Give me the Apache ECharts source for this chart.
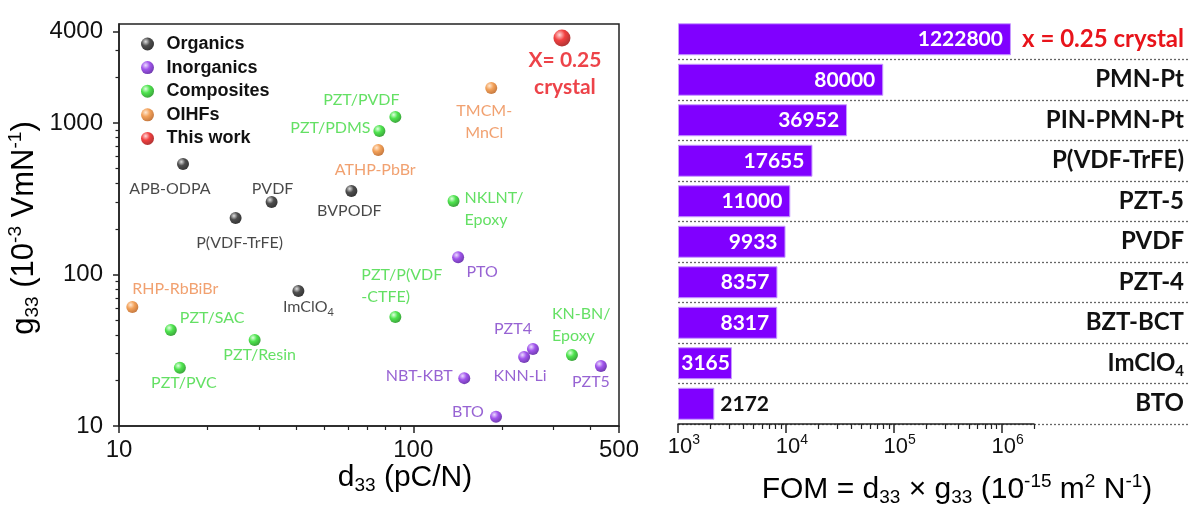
<!DOCTYPE html>
<html><head><meta charset="utf-8">
<script src="https://cdn.jsdelivr.net/npm/echarts@6/dist/echarts.min.js"></script>
<style>html,body{margin:0;padding:0;background:#fff}#c{width:1200px;height:522px}</style>
</head><body><div id="c"></div>
<script>
// ---------- Left panel: g33 vs d33 (log-log) ----------
const organicsNames = ['APB-ODPA', 'PVDF', 'P(VDF-TrFE)', 'BVPODF', 'ImClO4'];
const organicsD33 = [16.5, 33, 24.9, 61.6, 40.7];
const organicsG33 = [536, 301, 236, 356, 77.8];

const inorganicsNames = ['PTO', 'PZT4', 'KNN-Li', 'NBT-KBT', 'BTO', 'PZT5'];
const inorganicsD33 = [142, 255, 238, 149, 191, 434];
const inorganicsG33 = [130, 32.2, 28.5, 20.7, 11.5, 24.9];

const compositesNames = ['PZT/PVDF', 'PZT/PDMS', 'NKLNT/\nEpoxy', 'PZT/P(VDF\n-CTFE)', 'KN-BN/\nEpoxy', 'PZT/SAC', 'PZT/Resin', 'PZT/PVC'];
const compositesD33 = [86.9, 76.7, 137, 86.9, 346, 15.0, 28.9, 16.1];
const compositesG33 = [1097, 885, 306, 52.4, 29.4, 43, 37, 24.2];

const oihfNames = ['TMCM-\nMnCl', 'ATHP-PbBr', 'RHP-RbBiBr'];
const oihfD33 = [184, 76, 11.1];
const oihfG33 = [1702, 664, 61];

const thisWorkNames = ['X= 0.25\ncrystal'];
const thisWorkD33 = [320];
const thisWorkG33 = [3640];

const leftXTicks = [10, 100, 500];
const leftXMinor = [20, 30, 40, 50, 60, 70, 80, 90, 200, 300, 400];
const leftYTicks = [10, 100, 1000, 4000];
const leftYMinor = [20, 30, 40, 50, 60, 70, 80, 90, 200, 300, 400, 500, 600, 700, 800, 900, 2000, 3000];
const leftXRange = [10, 500];
const leftYRange = [10, 4500];

// ---------- Right panel: FOM bars ----------
const fomCategories = ['x = 0.25 crystal', 'PMN-Pt', 'PIN-PMN-Pt', 'P(VDF-TrFE)', 'PZT-5', 'PVDF', 'PZT-4', 'BZT-BCT', 'ImClO4', 'BTO'];
const fomValues = [1222800, 80000, 36952, 17655, 11000, 9933, 8357, 8317, 3165, 2172];
const fomTicks = [1e3, 1e4, 1e5, 1e6];
const fomMinor = [2e3, 3e3, 4e3, 5e3, 6e3, 7e3, 8e3, 9e3, 2e4, 3e4, 4e4, 5e4, 6e4, 7e4, 8e4, 9e4, 2e5, 3e5, 4e5, 5e5, 6e5, 7e5, 8e5, 9e5, 2e6];
const fomRange = [1e3, 2e6];

// ---------- styling (not data) ----------
const L = Math.log10;
const LBL = 'Lato, "Open Sans", sans-serif';
const ARI = '"Liberation Sans", Arial, sans-serif';
const labelPlace = {
  'APB-ODPA': [-13, 25, 'center'],
  'PVDF': [1, -13, 'center'],
  'P(VDF-TrFE)': [4, 25, 'center'],
  'BVPODF': [-2, 20, 'center'],
  'ImClO4': [10, 16, 'center'],
  'PTO': [24, 15, 'center'],
  'PZT4': [-20, -20, 'center'],
  'KNN-Li': [-4, 19, 'center'],
  'NBT-KBT': [-45, -2, 'center'],
  'BTO': [-28, -5, 'center'],
  'PZT5': [-10, 16, 'center'],
  'PZT/PVDF': [-34, -17, 'center'],
  'PZT/PDMS': [-49, -3, 'center'],
  'NKLNT/\nEpoxy': [11, 8, 'left'],
  'PZT/P(VDF\n-CTFE)': [-34, -31, 'left'],
  'KN-BN/\nEpoxy': [-20, -30, 'left'],
  'PZT/SAC': [9, -12, 'left'],
  'PZT/Resin': [5, 15, 'center'],
  'PZT/PVC': [4, 15, 'center'],
  'TMCM-\nMnCl': [-7, 34, 'center'],
  'ATHP-PbBr': [-3, 20, 'center'],
  'RHP-RbBiBr': [0, -18, 'left'],
  'X= 0.25\ncrystal': [3, 36, 'center']
};

function sphere(light, mid, dark) {
  return { type: 'radial', x: 0.36, y: 0.32, r: 0.72,
    colorStops: [{ offset: 0, color: light }, { offset: 0.45, color: mid }, { offset: 1, color: dark }] };
}

function makeScatter(name, names, d, g, grad, textColor, size, bold) {
  return {
    name: name, type: 'scatter', xAxisIndex: 0, yAxisIndex: 0,
    symbolSize: size,
    itemStyle: { color: grad },
    label: {
      show: true, position: 'inside', color: textColor,
      fontFamily: LBL, fontSize: bold ? 21 : 16, fontWeight: bold ? 'bold' : 'normal',
      lineHeight: bold ? 27 : 22, verticalAlign: 'middle',
      formatter: p => p.name === 'ImClO4' ? 'ImClO{s|4}' : p.name,
      rich: { s: { fontSize: 11, lineHeight: 12, verticalAlign: 'bottom', color: textColor, fontFamily: LBL } }
    },
    emphasis: { disabled: true },
    data: names.map((n, i) => {
      const pl = labelPlace[n] || [0, 18, 'center'];
      return { name: n, value: [L(d[i]), L(g[i])], label: { offset: [pl[0], pl[1]], align: pl[2] } };
    }),
    z: 5
  };
}

const subRich = (fs, color) => ({
  m: { fontSize: fs, lineHeight: fs + 5, fontFamily: ARI, color: color },
  sub: { fontSize: Math.round(fs * 0.62), lineHeight: Math.round(fs * 0.62), verticalAlign: 'bottom', fontFamily: ARI, color: color },
  sup: { fontSize: Math.round(fs * 0.62), lineHeight: Math.round(fs * 0.62), verticalAlign: 'top', fontFamily: ARI, color: color }
});

const chart = echarts.init(document.getElementById('c'), null, { renderer: 'canvas' });

const option = {
  animation: false,
  backgroundColor: '#fff',
  grid: [
    { left: 119, top: 24, width: 500, height: 402, show: true, borderColor: '#222', borderWidth: 1.5, backgroundColor: 'transparent', containLabel: false, outerBoundsMode: 'none' },
    { left: 678, top: 19, width: 356, height: 405, containLabel: false, outerBoundsMode: 'none' },
    { left: 678, top: 19, right: 12, height: 405, containLabel: false, outerBoundsMode: 'none' }
  ],
  legend: {
    orient: 'vertical', left: 136, top: 30, itemWidth: 28, itemHeight: 13, itemGap: 5.6,
    icon: 'circle',
    textStyle: { fontFamily: ARI, fontSize: 18, fontWeight: 'bold', color: '#111', lineHeight: 18 },
    data: ['Organics', 'Inorganics', 'Composites', 'OIHFs', 'This work'],
    selectedMode: false
  },
  xAxis: [
    { gridIndex: 0, type: 'value', position: 'bottom', min: L(leftXRange[0]), max: L(leftXRange[1]),
      axisLine: { show: true, lineStyle: { color: '#222', width: 1.5 } },
      axisTick: { show: true, length: 7, lineStyle: { color: '#222', width: 1.5 }, customValues: leftXTicks.map(L) },
      axisLabel: { show: true, customValues: leftXTicks.map(L), formatter: v => String(Math.round(Math.pow(10, v))),
        fontFamily: ARI, fontSize: 24, color: '#111', margin: 12 },
      splitLine: { show: false } },
    { gridIndex: 0, type: 'value', position: 'bottom', min: L(leftXRange[0]), max: L(leftXRange[1]),
      axisLine: { show: false },
      axisTick: { show: true, length: 4, lineStyle: { color: '#222', width: 1.2 }, customValues: leftXMinor.map(L) },
      axisLabel: { show: false }, splitLine: { show: false } },
    { gridIndex: 1, type: 'value', position: 'bottom', min: L(fomRange[0]), max: L(fomRange[1]), startValue: L(fomRange[0]),
      axisLine: { show: true, lineStyle: { color: '#222', width: 1.5 } },
      axisTick: { show: true, length: 9, lineStyle: { color: '#222', width: 1.5 }, customValues: fomTicks.map(L) },
      axisLabel: { show: true, customValues: fomTicks.map(L), margin: 9, padding: [0, 0, 0, 12],
        formatter: v => '{m|10}{sup|' + Math.round(v) + '}', rich: subRich(22, '#111') },
      splitLine: { show: false } },
    { gridIndex: 1, type: 'value', position: 'bottom', min: L(fomRange[0]), max: L(fomRange[1]),
      axisLine: { show: false },
      axisTick: { show: true, length: 5, lineStyle: { color: '#222', width: 1.2 }, customValues: fomMinor.map(L) },
      axisLabel: { show: false }, splitLine: { show: false } },
    { gridIndex: 2, type: 'value', show: false, min: 0, max: 1 }
  ],
  yAxis: [
    { gridIndex: 0, type: 'value', position: 'left', min: L(leftYRange[0]), max: L(leftYRange[1]),
      axisLine: { show: true, lineStyle: { color: '#222', width: 1.5 } },
      axisTick: { show: true, length: 6, lineStyle: { color: '#222', width: 1.5 }, customValues: leftYTicks.map(L) },
      axisLabel: { show: true, customValues: leftYTicks.map(L), formatter: v => String(Math.round(Math.pow(10, v))),
        fontFamily: ARI, fontSize: 24, color: '#111', margin: 16 },
      splitLine: { show: false } },
    { gridIndex: 0, type: 'value', position: 'left', min: L(leftYRange[0]), max: L(leftYRange[1]),
      axisLine: { show: false },
      axisTick: { show: true, length: 3.5, lineStyle: { color: '#222', width: 1.2 }, customValues: leftYMinor.map(L) },
      axisLabel: { show: false }, splitLine: { show: false } },
    { gridIndex: 1, type: 'category', data: fomCategories, inverse: true,
      axisLine: { show: false }, axisTick: { show: false }, axisLabel: { show: false }, splitLine: { show: false } },
    { gridIndex: 2, type: 'category', data: fomCategories, inverse: true, position: 'right',
      axisLine: { show: false }, axisTick: { show: false },
      axisLabel: { show: true, inside: true, margin: 4, interval: 0,
        formatter: (v, i) => i === 0 ? '{r|' + v + '}' : (v === 'ImClO4' ? '{b|ImClO}{bs|4}' : '{b|' + v + '}'),
        rich: {
          r: { fontFamily: LBL, fontSize: 24, fontWeight: 'bold', color: '#e8141b', lineHeight: 30 },
          b: { fontFamily: LBL, fontSize: 24, fontWeight: 'bold', color: '#111', lineHeight: 30 },
          bs: { fontFamily: LBL, fontSize: 15, fontWeight: 'bold', color: '#111', lineHeight: 15, verticalAlign: 'bottom' }
        } },
      splitLine: { show: true, showMinLine: false, showMaxLine: true, interval: 0,
        lineStyle: { color: '#666', width: 1.3, type: [2, 2] } } }
  ],
  series: [
    makeScatter('Organics', organicsNames, organicsD33, organicsG33, sphere('#d8d8d8', '#222', '#000'), '#1a1a1a', 12, false),
    makeScatter('Inorganics', inorganicsNames, inorganicsD33, inorganicsG33, sphere('#e6d2ff', '#8a2be8', '#4b0a99'), '#7d3cc8', 12, false),
    makeScatter('Composites', compositesNames, compositesD33, compositesG33, sphere('#d8ffd8', '#22dd22', '#0a8a0a'), '#3dd83d', 12, false),
    makeScatter('OIHFs', oihfNames, oihfD33, oihfG33, sphere('#ffe2c6', '#f08a30', '#b5560f'), '#ee8a4c', 12, false),
    makeScatter('This work', thisWorkNames, thisWorkD33, thisWorkG33, sphere('#ffd0d0', '#ee1111', '#990000'), '#e8141b', 17, true),
    {
      name: 'FOM', type: 'bar', xAxisIndex: 2, yAxisIndex: 2, barWidth: 32, clip: true,
      itemStyle: { color: '#8000ff', borderColor: '#c79bff', borderWidth: 1 },
      emphasis: { disabled: true },
      label: { show: true, position: 'insideRight', distance: 8, color: '#fff',
        fontFamily: LBL, fontSize: 21, fontWeight: 'bold',
        formatter: p => String(fomValues[p.dataIndex]) },
      data: fomValues.map((v, i) => {
        const item = { value: L(v) };
        if (fomCategories[i] === 'BTO') item.label = { position: 'right', distance: 6, color: '#111' };
        if (fomCategories[i] === 'ImClO4') item.label = { distance: 2 };
        return item;
      })
    }
  ],
  graphic: [
    { type: 'text', x: 405, y: 478, silent: true,
      style: { text: '{m|d}{sub|33}{m| (pC/N)}', align: 'center', verticalAlign: 'middle', rich: subRich(30, '#111') } },
    { type: 'text', x: 24, y: 228, rotation: Math.PI / 2, silent: true,
      style: { text: '{m|g}{sub|33}{m| (10}{sup|-3}{m| VmN}{sup|-1}{m|)}', align: 'center', verticalAlign: 'middle', rich: subRich(31, '#111') } },
    { type: 'text', x: 957, y: 490, silent: true,
      style: { text: '{m|FOM = d}{sub|33}{m| × g}{sub|33}{m| (10}{sup|-15}{m| m}{sup|2}{m| N}{sup|-1}{m|)}', align: 'center', verticalAlign: 'middle', rich: subRich(30, '#111') } }
  ]
};
chart.setOption(option);
</script>
</body></html>
